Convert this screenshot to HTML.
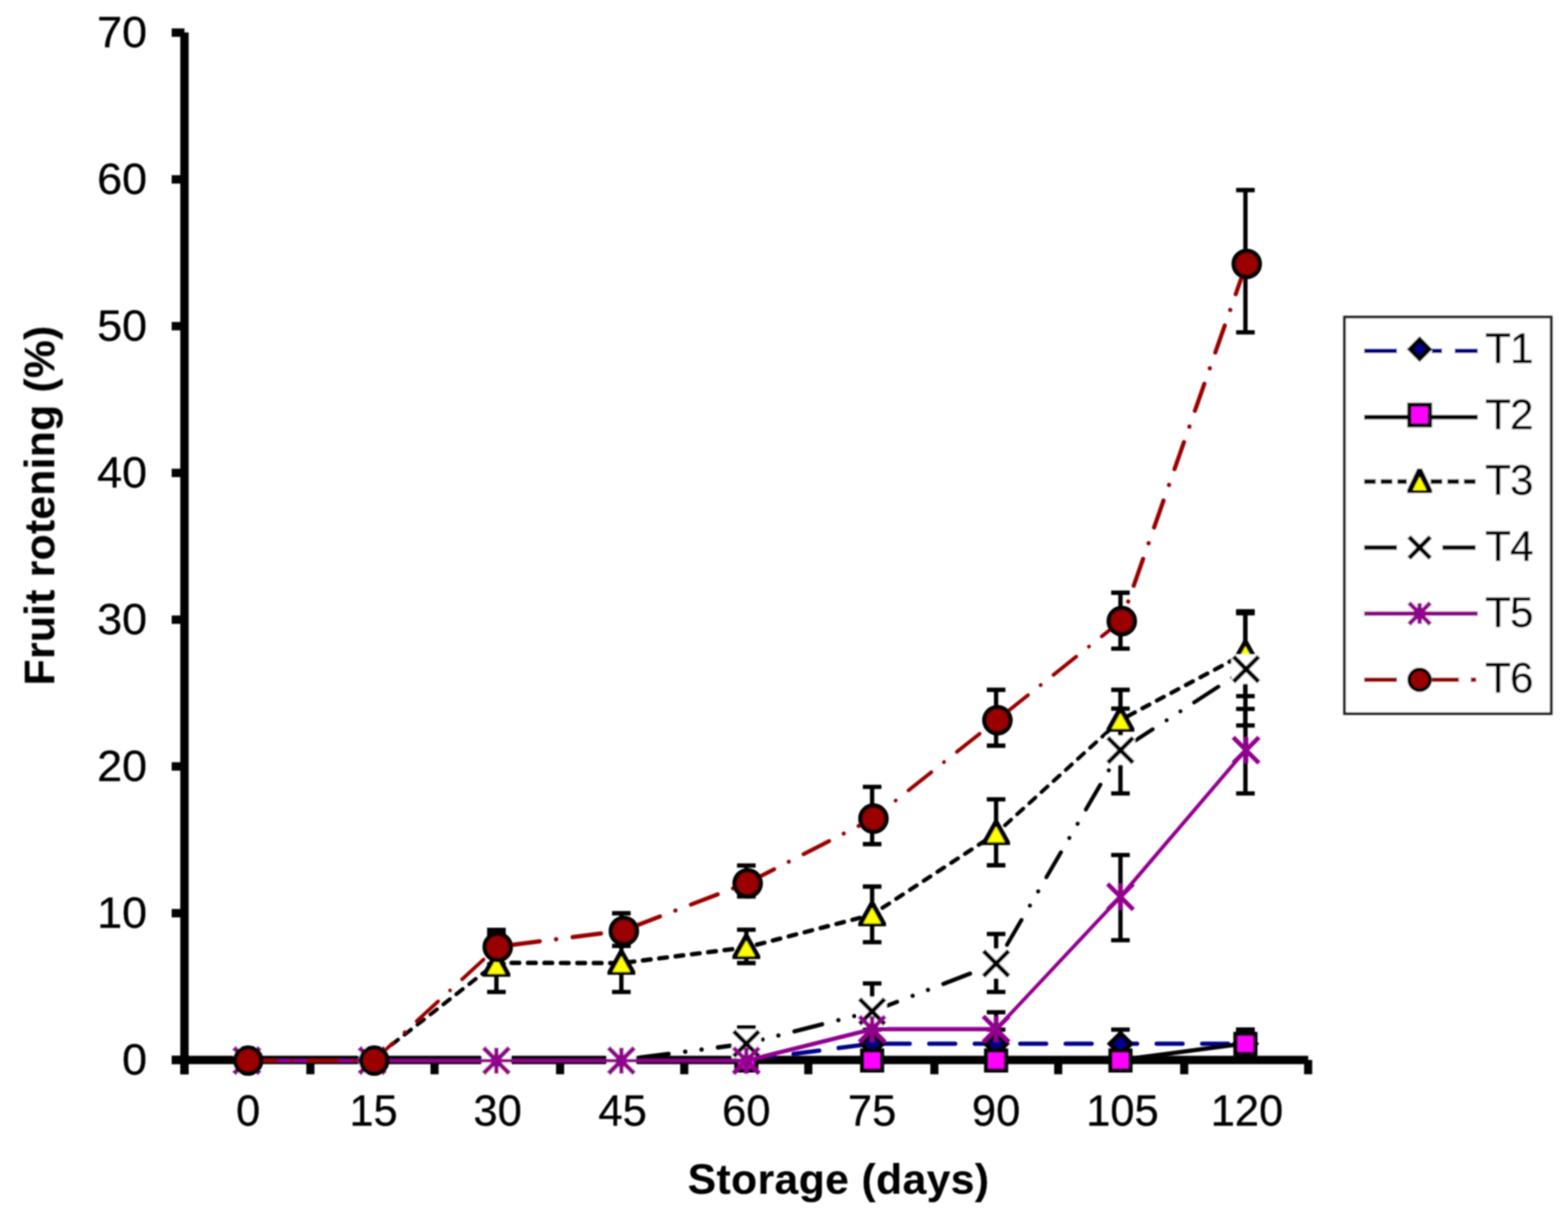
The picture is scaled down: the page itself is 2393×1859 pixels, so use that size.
<!DOCTYPE html>
<html lang="en">
<head>
<meta charset="utf-8">
<title>Fruit rotening (%) during storage</title>
<style>
html,body{margin:0;padding:0;background:#fff;}
body{width:2393px;height:1859px;overflow:hidden;}
svg{display:block;font-family:"Liberation Sans",sans-serif;fill:#000;}
text{stroke:#000;stroke-width:0.45px;stroke-linejoin:round;}
text.b{stroke-width:0.2px;}
</style>
</head>
<body>
<svg width="2393" height="1859" viewBox="0 0 2393 1859">
<defs><filter id="soft" x="-2%" y="-2%" width="104%" height="104%"><feGaussianBlur stdDeviation="1.15"/></filter></defs>
<rect width="2393" height="1859" fill="#fff"/>
<g filter="url(#soft)">
<g fill="#000">
<rect x="275.1" y="49.5" width="12.8" height="1590.1"/>
<rect x="262" y="1611.4" width="1734.5" height="12.8"/>
<rect x="262" y="43.4" width="19.5" height="12.8"/>
<rect x="262" y="267.4" width="19.5" height="12.8"/>
<rect x="262" y="491.4" width="19.5" height="12.8"/>
<rect x="262" y="715.4" width="19.5" height="12.8"/>
<rect x="262" y="939.4" width="19.5" height="12.8"/>
<rect x="262" y="1163.4" width="19.5" height="12.8"/>
<rect x="262" y="1387.4" width="19.5" height="12.8"/>
<rect x="262" y="1611.4" width="19.5" height="12.8"/>
<rect x="275.3" y="1617.8" width="12.4" height="21.8"/>
<rect x="467.5" y="1617.8" width="12.4" height="21.8"/>
<rect x="657.0" y="1617.8" width="12.4" height="21.8"/>
<rect x="848.6" y="1617.8" width="12.4" height="21.8"/>
<rect x="1038.1" y="1617.8" width="12.4" height="21.8"/>
<rect x="1227.4" y="1617.8" width="12.4" height="21.8"/>
<rect x="1419.8" y="1617.8" width="12.4" height="21.8"/>
<rect x="1608.8" y="1617.8" width="12.4" height="21.8"/>
<rect x="1801.1" y="1617.8" width="12.4" height="21.8"/>
<rect x="1990.2" y="1617.8" width="12.4" height="21.8"/>
</g>
<path d="M1331.0 1571.5V1614.0M1316.8 1571.5H1345.2M1316.8 1614.0H1345.2" stroke="#000" stroke-width="6.6" fill="none" stroke-linecap="butt"/>
<path d="M1520.2 1571.5V1614.0M1506.0 1571.5H1534.4M1506.0 1614.0H1534.4" stroke="#000" stroke-width="6.6" fill="none" stroke-linecap="butt"/>
<path d="M1710.0 1571.5V1614.0M1695.8 1571.5H1724.2M1695.8 1614.0H1724.2" stroke="#000" stroke-width="6.6" fill="none" stroke-linecap="butt"/>
<path d="M1900.7 1571.5V1614.0M1886.5 1571.5H1914.9M1886.5 1614.0H1914.9" stroke="#000" stroke-width="6.6" fill="none" stroke-linecap="butt"/>
<path d="M1900.7 1571.5V1614.0M1886.5 1571.5H1914.9M1886.5 1614.0H1914.9" stroke="#000" stroke-width="6.6" fill="none" stroke-linecap="butt"/>
<path d="M757.6 1425.6V1514.0M743.4 1425.6H771.8M743.4 1514.0H771.8" stroke="#000" stroke-width="6.6" fill="none" stroke-linecap="butt"/>
<path d="M948.3 1426.0V1514.0M934.1 1426.0H962.5M934.1 1514.0H962.5" stroke="#000" stroke-width="6.6" fill="none" stroke-linecap="butt"/>
<path d="M1139.0 1419.0V1469.9M1124.8 1419.0H1153.2M1124.8 1469.9H1153.2" stroke="#000" stroke-width="6.6" fill="none" stroke-linecap="butt"/>
<path d="M1331.0 1353.1V1438.0M1316.8 1353.1H1345.2M1316.8 1438.0H1345.2" stroke="#000" stroke-width="6.6" fill="none" stroke-linecap="butt"/>
<path d="M1520.2 1220.0V1320.6M1506.0 1220.0H1534.4M1506.0 1320.6H1534.4" stroke="#000" stroke-width="6.6" fill="none" stroke-linecap="butt"/>
<path d="M1710.0 1052.9V1145.0M1695.8 1052.9H1724.2M1695.8 1145.0H1724.2" stroke="#000" stroke-width="6.6" fill="none" stroke-linecap="butt"/>
<path d="M1900.7 933.0V1062.5M1886.5 933.0H1914.9M1886.5 1062.5H1914.9" stroke="#000" stroke-width="6.6" fill="none" stroke-linecap="butt"/>
<path d="M1139.0 1568.3V1616.0M1124.8 1568.3H1153.2M1124.8 1616.0H1153.2" stroke="#000" stroke-width="6.6" fill="none" stroke-linecap="butt"/>
<path d="M1331.0 1501.0V1587.0M1316.8 1501.0H1345.2M1316.8 1587.0H1345.2" stroke="#000" stroke-width="6.6" fill="none" stroke-linecap="butt"/>
<path d="M1520.2 1425.5V1514.0M1506.0 1425.5H1534.4M1506.0 1514.0H1534.4" stroke="#000" stroke-width="6.6" fill="none" stroke-linecap="butt"/>
<path d="M1710.0 1081.5V1211.0M1695.8 1081.5H1724.2M1695.8 1211.0H1724.2" stroke="#000" stroke-width="6.6" fill="none" stroke-linecap="butt"/>
<path d="M1900.7 936.0V1107.2M1886.5 936.0H1914.9M1886.5 1107.2H1914.9" stroke="#000" stroke-width="6.6" fill="none" stroke-linecap="butt"/>
<path d="M1520.2 1545.0V1597.0M1506.0 1545.0H1534.4M1506.0 1597.0H1534.4" stroke="#000" stroke-width="6.6" fill="none" stroke-linecap="butt"/>
<path d="M1710.0 1305.0V1435.0M1695.8 1305.0H1724.2M1695.8 1435.0H1724.2" stroke="#000" stroke-width="6.6" fill="none" stroke-linecap="butt"/>
<path d="M1900.7 1082.0V1211.0M1886.5 1082.0H1914.9M1886.5 1211.0H1914.9" stroke="#000" stroke-width="6.6" fill="none" stroke-linecap="butt"/>
<path d="M757.6 1419.4V1472.0M743.4 1419.4H771.8M743.4 1472.0H771.8" stroke="#000" stroke-width="6.6" fill="none" stroke-linecap="butt"/>
<path d="M948.3 1393.9V1443.8M934.1 1393.9H962.5M934.1 1443.8H962.5" stroke="#000" stroke-width="6.6" fill="none" stroke-linecap="butt"/>
<path d="M1139.0 1321.0V1368.2M1124.8 1321.0H1153.2M1124.8 1368.2H1153.2" stroke="#000" stroke-width="6.6" fill="none" stroke-linecap="butt"/>
<path d="M1331.0 1201.0V1288.4M1316.8 1201.0H1345.2M1316.8 1288.4H1345.2" stroke="#000" stroke-width="6.6" fill="none" stroke-linecap="butt"/>
<path d="M1520.2 1052.9V1138.1M1506.0 1052.9H1534.4M1506.0 1138.1H1534.4" stroke="#000" stroke-width="6.6" fill="none" stroke-linecap="butt"/>
<path d="M1710.0 904.6V990.0M1695.8 904.6H1724.2M1695.8 990.0H1724.2" stroke="#000" stroke-width="6.6" fill="none" stroke-linecap="butt"/>
<path d="M1900.7 290.1V507.3M1886.5 290.1H1914.9M1886.5 507.3H1914.9" stroke="#000" stroke-width="6.6" fill="none" stroke-linecap="butt"/>
<path d="M1139.0 1617.8L1331.0 1593.0" stroke="#00008c" stroke-width="6.55" fill="none" stroke-linecap="round" stroke-dasharray="39.45 29.95" stroke-dashoffset="66.13"/>
<path d="M1331.0 1593.0L1520.2 1593.0" stroke="#00008c" stroke-width="6.60" fill="none" stroke-linecap="round" stroke-dasharray="39.40 30.00" stroke-dashoffset="51.50"/>
<path d="M1520.2 1593.0L1710.0 1593.0" stroke="#00008c" stroke-width="6.60" fill="none" stroke-linecap="round" stroke-dasharray="39.40 30.00" stroke-dashoffset="32.50"/>
<path d="M1710.0 1593.0L1900.7 1593.0" stroke="#00008c" stroke-width="6.60" fill="none" stroke-linecap="round" stroke-dasharray="39.40 30.00" stroke-dashoffset="14.10"/>
<path d="M1139.0 1597.3L1160.0 1617.8L1139.0 1638.3L1118.0 1617.8Z" fill="#000"/>
<path d="M1139.0 1607.6L1149.7 1617.8L1139.0 1628.0L1128.3 1617.8Z" fill="#00008c"/>
<path d="M1331.0 1572.5L1352.0 1593.0L1331.0 1613.5L1310.0 1593.0Z" fill="#000"/>
<path d="M1331.0 1582.8L1341.7 1593.0L1331.0 1603.2L1320.3 1593.0Z" fill="#00008c"/>
<path d="M1520.2 1572.5L1541.2 1593.0L1520.2 1613.5L1499.2 1593.0Z" fill="#000"/>
<path d="M1520.2 1582.8L1530.9 1593.0L1520.2 1603.2L1509.5 1593.0Z" fill="#00008c"/>
<path d="M1710.0 1572.5L1731.0 1593.0L1710.0 1613.5L1689.0 1593.0Z" fill="#000"/>
<path d="M1710.0 1582.8L1720.7 1593.0L1710.0 1603.2L1699.3 1593.0Z" fill="#00008c"/>
<path d="M1900.7 1572.5L1921.7 1593.0L1900.7 1613.5L1879.7 1593.0Z" fill="#000"/>
<path d="M1900.7 1582.8L1911.4 1593.0L1900.7 1603.2L1890.0 1593.0Z" fill="#00008c"/>
<path d="M1139.0 1617.8L1331.0 1617.8" stroke="#000" stroke-width="6.60" fill="none" stroke-linecap="round"/>
<path d="M1331.0 1617.8L1520.2 1617.8" stroke="#000" stroke-width="6.60" fill="none" stroke-linecap="round"/>
<path d="M1520.2 1617.8L1710.0 1617.8" stroke="#000" stroke-width="6.60" fill="none" stroke-linecap="round"/>
<path d="M1710.0 1617.8L1900.7 1592.5" stroke="#000" stroke-width="6.54" fill="none" stroke-linecap="round"/>
<rect x="1120.6" y="1600.2" width="36.8" height="36.8" fill="#000"/>
<rect x="1126.9" y="1606.5" width="24.2" height="24.2" fill="#ff00ff"/>
<rect x="1312.6" y="1600.2" width="36.8" height="36.8" fill="#000"/>
<rect x="1318.9" y="1606.5" width="24.2" height="24.2" fill="#ff00ff"/>
<rect x="1501.8" y="1600.2" width="36.8" height="36.8" fill="#000"/>
<rect x="1508.1" y="1606.5" width="24.2" height="24.2" fill="#ff00ff"/>
<rect x="1691.6" y="1600.2" width="36.8" height="36.8" fill="#000"/>
<rect x="1697.9" y="1606.5" width="24.2" height="24.2" fill="#ff00ff"/>
<rect x="1882.3" y="1574.9" width="36.8" height="36.8" fill="#000"/>
<rect x="1888.6" y="1581.2" width="24.2" height="24.2" fill="#ff00ff"/>
<path d="M376.7 1617.8L568.0 1617.8" stroke="#000" stroke-width="6.70" fill="none" stroke-linecap="round" stroke-dasharray="11.70 13.40" stroke-dashoffset="21.75"/>
<path d="M568.0 1617.8L757.6 1469.5" stroke="#000" stroke-width="5.99" fill="none" stroke-linecap="round" stroke-dasharray="12.41 12.69" stroke-dashoffset="12.61"/>
<path d="M757.6 1469.5L948.3 1470.0" stroke="#000" stroke-width="6.70" fill="none" stroke-linecap="round" stroke-dasharray="11.70 13.40" stroke-dashoffset="1.96"/>
<path d="M948.3 1470.0L1139.0 1446.0" stroke="#000" stroke-width="6.67" fill="none" stroke-linecap="round" stroke-dasharray="11.73 13.37" stroke-dashoffset="16.97"/>
<path d="M1139.0 1446.0L1331.0 1396.0" stroke="#000" stroke-width="6.59" fill="none" stroke-linecap="round" stroke-dasharray="11.81 13.29" stroke-dashoffset="8.42"/>
<path d="M1331.0 1396.0L1520.2 1272.0" stroke="#000" stroke-width="6.15" fill="none" stroke-linecap="round" stroke-dasharray="12.25 12.85" stroke-dashoffset="6.24"/>
<path d="M1520.2 1272.0L1710.0 1099.0" stroke="#000" stroke-width="5.83" fill="none" stroke-linecap="round" stroke-dasharray="12.57 12.53" stroke-dashoffset="6.72"/>
<path d="M1710.0 1099.0L1900.7 997.0" stroke="#000" stroke-width="6.30" fill="none" stroke-linecap="round" stroke-dasharray="12.10 13.00" stroke-dashoffset="12.29"/>
<path d="M754.1 1454.0H761.1L778.8 1485.7V1490.7H736.4V1485.7Z" fill="#000"/>
<path d="M757.6 1462.5L771.0 1486.6H744.2Z" fill="#ffff00"/>
<path d="M944.8 1451.0H951.8L969.5 1482.7V1487.7H927.1V1482.7Z" fill="#000"/>
<path d="M948.3 1459.5L961.7 1483.6H934.9Z" fill="#ffff00"/>
<path d="M1135.5 1427.0H1142.5L1160.2 1458.7V1463.7H1117.8V1458.7Z" fill="#000"/>
<path d="M1139.0 1435.5L1152.4 1459.6H1125.6Z" fill="#ffff00"/>
<path d="M1327.5 1377.0H1334.5L1352.2 1408.7V1413.7H1309.8V1408.7Z" fill="#000"/>
<path d="M1331.0 1385.5L1344.4 1409.6H1317.6Z" fill="#ffff00"/>
<path d="M1516.7 1253.0H1523.7L1541.4 1284.7V1289.7H1499.0V1284.7Z" fill="#000"/>
<path d="M1520.2 1261.5L1533.6 1285.6H1506.8Z" fill="#ffff00"/>
<path d="M1706.5 1080.0H1713.5L1731.2 1111.7V1116.7H1688.8V1111.7Z" fill="#000"/>
<path d="M1710.0 1088.5L1723.4 1112.6H1696.6Z" fill="#ffff00"/>
<path d="M1897.2 978.0H1904.2L1921.9 1009.7V1014.7H1879.5V1009.7Z" fill="#000"/>
<path d="M1900.7 986.5L1914.1 1010.6H1887.3Z" fill="#ffff00"/>
<path d="M376.7 1617.8L568.0 1617.8" stroke="#000" stroke-width="6.60" fill="none" stroke-linecap="round" stroke-dasharray="43.40 25.60 0.10 25.00 0.10 25.30" stroke-dashoffset="116.20"/>
<path d="M568.0 1617.8L757.6 1617.8" stroke="#000" stroke-width="6.60" fill="none" stroke-linecap="round" stroke-dasharray="43.40 25.60 0.10 25.00 0.10 25.30" stroke-dashoffset="68.50"/>
<path d="M757.6 1617.8L948.3 1617.8" stroke="#000" stroke-width="6.60" fill="none" stroke-linecap="round" stroke-dasharray="43.40 25.60 0.10 25.00 0.10 25.30" stroke-dashoffset="19.10"/>
<path d="M948.3 1617.8L1139.0 1593.0" stroke="#000" stroke-width="6.57" fill="none" stroke-linecap="round" stroke-dasharray="43.43 25.58 0.10 25.00 0.10 25.28" stroke-dashoffset="90.32"/>
<path d="M1139.0 1593.0L1331.0 1543.8" stroke="#000" stroke-width="6.48" fill="none" stroke-linecap="round" stroke-dasharray="43.52 25.54 0.10 25.00 0.10 25.24" stroke-dashoffset="43.67"/>
<path d="M1331.0 1543.8L1520.2 1470.6" stroke="#000" stroke-width="6.33" fill="none" stroke-linecap="round" stroke-dasharray="43.67 25.47 0.10 25.00 0.10 25.17" stroke-dashoffset="2.94"/>
<path d="M1520.2 1470.6L1710.0 1145.0" stroke="#000" stroke-width="6.06" fill="none" stroke-linecap="round" stroke-dasharray="43.94 25.33 0.10 25.00 0.10 25.03" stroke-dashoffset="86.45"/>
<path d="M1710.0 1145.0L1900.7 1021.3" stroke="#000" stroke-width="5.96" fill="none" stroke-linecap="round" stroke-dasharray="44.04 25.28 0.10 25.00 0.10 24.98" stroke-dashoffset="104.88"/>
<rect x="356.2" y="1598.3" width="41.0" height="41.0" fill="#fff"/>
<path d="M357.5 1599.6L395.9 1638.0M357.5 1638.0L395.9 1599.6" stroke="#000" stroke-width="6.8" fill="none" stroke-linecap="butt"/>
<rect x="547.5" y="1598.3" width="41.0" height="41.0" fill="#fff"/>
<path d="M548.8 1599.6L587.2 1638.0M548.8 1638.0L587.2 1599.6" stroke="#000" stroke-width="6.8" fill="none" stroke-linecap="butt"/>
<rect x="735.2" y="1596.4" width="44.8" height="44.8" fill="#fff"/>
<path d="M738.4 1599.6L776.8 1638.0M738.4 1638.0L776.8 1599.6" stroke="#000" stroke-width="6.8" fill="none" stroke-linecap="butt"/>
<rect x="925.9" y="1596.4" width="44.8" height="44.8" fill="#fff"/>
<path d="M929.1 1599.6L967.5 1638.0M929.1 1638.0L967.5 1599.6" stroke="#000" stroke-width="6.8" fill="none" stroke-linecap="butt"/>
<rect x="1116.6" y="1570.6" width="44.8" height="44.8" fill="#fff"/>
<path d="M1119.8 1573.8L1158.2 1612.2M1119.8 1612.2L1158.2 1573.8" stroke="#000" stroke-width="6.8" fill="none" stroke-linecap="butt"/>
<rect x="1308.6" y="1521.4" width="44.8" height="44.8" fill="#fff"/>
<path d="M1311.8 1524.6L1350.2 1563.0M1311.8 1563.0L1350.2 1524.6" stroke="#000" stroke-width="6.8" fill="none" stroke-linecap="butt"/>
<rect x="1497.8" y="1448.2" width="44.8" height="44.8" fill="#fff"/>
<path d="M1501.0 1451.4L1539.4 1489.8M1501.0 1489.8L1539.4 1451.4" stroke="#000" stroke-width="6.8" fill="none" stroke-linecap="butt"/>
<rect x="1687.6" y="1122.6" width="44.8" height="44.8" fill="#fff"/>
<path d="M1690.8 1125.8L1729.2 1164.2M1690.8 1164.2L1729.2 1125.8" stroke="#000" stroke-width="6.8" fill="none" stroke-linecap="butt"/>
<rect x="1879.3" y="998.9" width="44.8" height="44.8" fill="#fff"/>
<path d="M1882.5 1002.1L1920.9 1040.5M1882.5 1040.5L1920.9 1002.1" stroke="#000" stroke-width="6.8" fill="none" stroke-linecap="butt"/>
<path d="M376.7 1618.8L568.0 1618.8" stroke="#92008e" stroke-width="5.20" fill="none" stroke-linecap="round"/>
<path d="M568.0 1618.8L757.6 1618.8" stroke="#92008e" stroke-width="5.20" fill="none" stroke-linecap="round"/>
<path d="M757.6 1618.8L948.3 1618.8" stroke="#92008e" stroke-width="5.20" fill="none" stroke-linecap="round"/>
<path d="M948.3 1618.8L1139.0 1618.8" stroke="#92008e" stroke-width="5.20" fill="none" stroke-linecap="round"/>
<path d="M1139.0 1618.8L1331.0 1570.8" stroke="#92008e" stroke-width="6.49" fill="none" stroke-linecap="round"/>
<path d="M1331.0 1570.8L1520.2 1570.8" stroke="#92008e" stroke-width="6.60" fill="none" stroke-linecap="round"/>
<path d="M1520.2 1570.8L1710.0 1368.7" stroke="#92008e" stroke-width="5.62" fill="none" stroke-linecap="round"/>
<path d="M1710.0 1368.7L1900.7 1145.0" stroke="#92008e" stroke-width="5.73" fill="none" stroke-linecap="round"/>
<path d="M357.1 1599.2L396.3 1638.4M357.1 1638.4L396.3 1599.2" stroke="#92008e" stroke-width="6.8" fill="none" stroke-linecap="butt"/>
<path d="M376.7 1599.0V1638.6" stroke="#92008e" stroke-width="6.8" fill="none" stroke-linecap="butt"/>
<path d="M548.4 1599.2L587.6 1638.4M548.4 1638.4L587.6 1599.2" stroke="#92008e" stroke-width="6.8" fill="none" stroke-linecap="butt"/>
<path d="M568.0 1599.0V1638.6" stroke="#92008e" stroke-width="6.8" fill="none" stroke-linecap="butt"/>
<path d="M738.0 1599.2L777.2 1638.4M738.0 1638.4L777.2 1599.2" stroke="#92008e" stroke-width="6.8" fill="none" stroke-linecap="butt"/>
<path d="M757.6 1599.0V1638.6" stroke="#92008e" stroke-width="6.8" fill="none" stroke-linecap="butt"/>
<path d="M928.7 1599.2L967.9 1638.4M928.7 1638.4L967.9 1599.2" stroke="#92008e" stroke-width="6.8" fill="none" stroke-linecap="butt"/>
<path d="M948.3 1599.0V1638.6" stroke="#92008e" stroke-width="6.8" fill="none" stroke-linecap="butt"/>
<path d="M1119.4 1599.2L1158.6 1638.4M1119.4 1638.4L1158.6 1599.2" stroke="#92008e" stroke-width="6.8" fill="none" stroke-linecap="butt"/>
<path d="M1139.0 1599.0V1638.6" stroke="#92008e" stroke-width="6.8" fill="none" stroke-linecap="butt"/>
<path d="M1311.4 1551.2L1350.6 1590.4M1311.4 1590.4L1350.6 1551.2" stroke="#92008e" stroke-width="6.8" fill="none" stroke-linecap="butt"/>
<path d="M1331.0 1551.0V1590.6" stroke="#92008e" stroke-width="6.8" fill="none" stroke-linecap="butt"/>
<path d="M1500.6 1551.2L1539.8 1590.4M1500.6 1590.4L1539.8 1551.2" stroke="#92008e" stroke-width="6.8" fill="none" stroke-linecap="butt"/>
<path d="M1520.2 1551.0V1590.6" stroke="#92008e" stroke-width="6.8" fill="none" stroke-linecap="butt"/>
<path d="M1690.4 1349.1L1729.6 1388.3M1690.4 1388.3L1729.6 1349.1" stroke="#92008e" stroke-width="6.8" fill="none" stroke-linecap="butt"/>
<path d="M1710.0 1348.9V1388.5" stroke="#92008e" stroke-width="6.8" fill="none" stroke-linecap="butt"/>
<path d="M1882.1 1125.4L1921.3 1164.6M1882.1 1164.6L1921.3 1125.4" stroke="#92008e" stroke-width="6.8" fill="none" stroke-linecap="butt"/>
<path d="M1901.7 1125.2V1164.8" stroke="#92008e" stroke-width="6.8" fill="none" stroke-linecap="butt"/>
<path d="M378.3 1618.8L570.5 1618.8" stroke="#990000" stroke-width="5.20" fill="none" stroke-linecap="round" stroke-dasharray="44.80 24.20 0.80 24.50" stroke-dashoffset="1.90"/>
<path d="M570.5 1618.8L759.2 1445.0" stroke="#990000" stroke-width="5.52" fill="none" stroke-linecap="round" stroke-dasharray="44.48 24.71 0.10 25.01" stroke-dashoffset="5.32"/>
<path d="M759.2 1445.0L951.3 1420.3" stroke="#990000" stroke-width="6.57" fill="none" stroke-linecap="round" stroke-dasharray="43.43 25.23 0.10 25.53" stroke-dashoffset="72.74"/>
<path d="M951.3 1420.3L1140.6 1347.6" stroke="#990000" stroke-width="6.33" fill="none" stroke-linecap="round" stroke-dasharray="43.67 25.11 0.10 25.41" stroke-dashoffset="77.98"/>
<path d="M1140.6 1347.6L1332.6 1249.2" stroke="#990000" stroke-width="6.15" fill="none" stroke-linecap="round" stroke-dasharray="43.85 25.02 0.10 25.32" stroke-dashoffset="92.21"/>
<path d="M1332.6 1249.2L1521.8 1098.6" stroke="#990000" stroke-width="5.71" fill="none" stroke-linecap="round" stroke-dasharray="44.29 24.80 0.10 25.10" stroke-dashoffset="25.29"/>
<path d="M1521.8 1098.6L1711.6 947.2" stroke="#990000" stroke-width="5.71" fill="none" stroke-linecap="round" stroke-dasharray="44.29 24.80 0.10 25.10" stroke-dashoffset="78.50"/>
<path d="M1711.6 947.2L1902.3 402.1" stroke="#990000" stroke-width="6.37" fill="none" stroke-linecap="round" stroke-dasharray="43.63 25.14 0.10 25.44" stroke-dashoffset="38.05"/>
<circle cx="378.7" cy="1618.8" r="20.0" fill="#990000" stroke="#000" stroke-width="6.6"/>
<circle cx="571.1" cy="1618.8" r="20.0" fill="#990000" stroke="#000" stroke-width="6.6"/>
<circle cx="759.6" cy="1445.4" r="20.0" fill="#990000" stroke="#000" stroke-width="6.6"/>
<circle cx="952.1" cy="1421.0" r="20.0" fill="#990000" stroke="#000" stroke-width="6.6"/>
<circle cx="1141.0" cy="1348.3" r="20.0" fill="#990000" stroke="#000" stroke-width="6.6"/>
<circle cx="1333.0" cy="1249.4" r="20.0" fill="#990000" stroke="#000" stroke-width="6.6"/>
<circle cx="1522.2" cy="1099.3" r="20.0" fill="#990000" stroke="#000" stroke-width="6.6"/>
<circle cx="1712.0" cy="947.9" r="20.0" fill="#990000" stroke="#000" stroke-width="6.6"/>
<circle cx="1902.7" cy="402.8" r="20.0" fill="#990000" stroke="#000" stroke-width="6.6"/>
<rect x="2052" y="484" width="315.3" height="605.2" fill="#fff" stroke="#222" stroke-width="4.2"/>
<path d="M2081.9 535.6H2131.9M2185.4 535.6H2200.6M2220.4 535.6H2255.2" stroke="#00008c" stroke-width="7.0" fill="none"/>
<path d="M2166.6 513.3L2186.0 532.9L2166.6 552.5L2147.2 532.9Z" fill="#000"/>
<path d="M2166.6 523.6L2175.7 532.9L2166.6 542.2L2157.5 532.9Z" fill="#00008c"/>
<path d="M2081.9 636.7H2255.2" stroke="#000" stroke-width="7.0" fill="none"/>
<rect x="2147.7" y="614.6" width="37.8" height="37.8" fill="#000"/>
<rect x="2154.0" y="620.9" width="25.2" height="25.2" fill="#ff00ff"/>
<path d="M2081.9 735.0H2147M2183.5 735.0H2252" stroke="#000" stroke-width="7.0" fill="none" stroke-dasharray="17.6 7.8"/>
<path d="M2163.1 715.3H2170.1L2185.5 747.6V752.6H2147.7V747.6Z" fill="#000"/>
<path d="M2166.6 727.8L2177.0 747.9H2156.2Z" fill="#ffff00"/>
<path d="M2081.9 835.7H2131.9M2201.5 835.7H2252" stroke="#000" stroke-width="7.0" fill="none"/>
<path d="M2150.4 819.5L2182.8 851.9M2150.4 851.9L2182.8 819.5" stroke="#000" stroke-width="6.8" fill="none" stroke-linecap="butt"/>
<path d="M2081.9 936.4H2255.2" stroke="#92008e" stroke-width="7.0" fill="none"/>
<path d="M2150.4 920.2L2182.8 952.6M2150.4 952.6L2182.8 920.2" stroke="#92008e" stroke-width="6.8" fill="none" stroke-linecap="butt"/>
<path d="M2166.6 920.6V952.2" stroke="#92008e" stroke-width="6.8" fill="none" stroke-linecap="butt"/>
<path d="M2081.9 1037.6H2131.9M2185.4 1037.6H2226.4M2244.7 1037.6H2252.8" stroke="#990000" stroke-width="7.0" fill="none"/>
<circle cx="2166.6" cy="1037.6" r="15.9" fill="#990000" stroke="#000" stroke-width="5.6"/>
<text x="2266.5" y="553.9" font-size="64.5">T<tspan dx="-1.5">1</tspan></text>
<text x="2266.5" y="654.5" font-size="64.5">T<tspan dx="-1.5">2</tspan></text>
<text x="2266.5" y="755.2" font-size="64.5">T<tspan dx="-1.5">3</tspan></text>
<text x="2266.5" y="855.9" font-size="64.5">T<tspan dx="-1.5">4</tspan></text>
<text x="2266.5" y="956.5" font-size="64.5">T<tspan dx="-1.5">5</tspan></text>
<text x="2266.5" y="1057.2" font-size="64.5">T<tspan dx="-1.5">6</tspan></text>
<g font-size="66" text-anchor="end">
<text transform="translate(224.5 71.8) scale(1.04 1)">70</text>
<text transform="translate(224.5 295.8) scale(1.04 1)">60</text>
<text transform="translate(224.5 519.8) scale(1.04 1)">50</text>
<text transform="translate(224.5 743.8) scale(1.04 1)">40</text>
<text transform="translate(224.5 967.8) scale(1.04 1)">30</text>
<text transform="translate(224.5 1191.8) scale(1.04 1)">20</text>
<text transform="translate(224.5 1415.8) scale(1.04 1)">10</text>
<text transform="translate(224.5 1639.8) scale(1.04 1)">0</text>
</g>
<g font-size="66" text-anchor="middle">
<text transform="translate(378.8 1718.4) scale(1.005 1)">0</text>
<text transform="translate(570.1 1718.4) scale(1.005 1)">15</text>
<text transform="translate(759.5 1718.4) scale(1.005 1)">30</text>
<text transform="translate(950.2 1718.4) scale(1.005 1)">45</text>
<text transform="translate(1139.0 1718.4) scale(1.005 1)">60</text>
<text transform="translate(1331.0 1718.4) scale(1.005 1)">75</text>
<text transform="translate(1520.2 1718.4) scale(1.005 1)">90</text>
<text transform="translate(1713.0 1718.4) scale(1.005 1)">105</text>
<text transform="translate(1903.0 1718.4) scale(1.005 1)">120</text>
</g>
<text x="1279.5" y="1822.4" font-size="65" class="b" font-weight="bold" text-anchor="middle" textLength="460" lengthAdjust="spacing">Storage (days)</text>
<text transform="translate(82.8 771.6) rotate(-90)" font-size="65" class="b" font-weight="bold" text-anchor="middle" textLength="549" lengthAdjust="spacing">Fruit rotening (%)</text>
</g>
</svg>
</body>
</html>
